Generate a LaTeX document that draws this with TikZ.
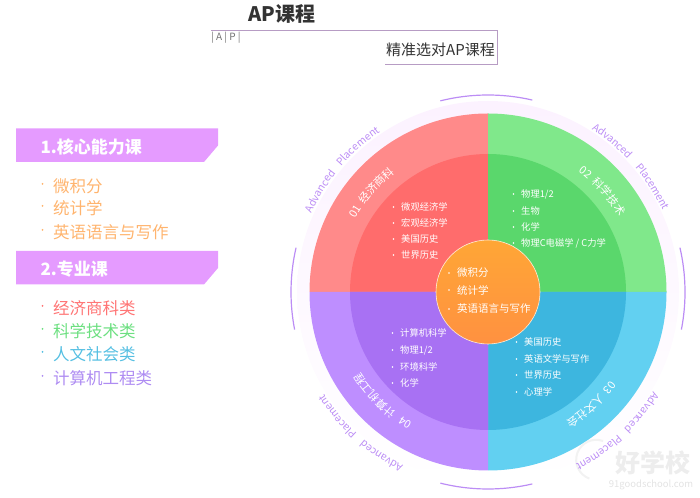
\documentclass[tikz,border=0pt]{standalone}
\usepackage{fontspec}
\setmainfont{Noto Sans CJK SC}
\usetikzlibrary{calc,decorations.text}
\definecolor{bannerpurple}{HTML}{E59BFF}
\definecolor{ringpurple}{HTML}{BC8DF5}
\definecolor{linepurple}{HTML}{B79CC4}
\definecolor{redout}{HTML}{FF8A8A}
\definecolor{redin}{HTML}{FF6C6C}
\definecolor{greenout}{HTML}{80E88B}
\definecolor{greenin}{HTML}{5AD76C}
\definecolor{blueout}{HTML}{62D0F1}
\definecolor{bluein}{HTML}{3DB6DF}
\definecolor{purpleout}{HTML}{BE8EFF}
\definecolor{purplein}{HTML}{A871F3}
\definecolor{coreorange}{HTML}{FFA636}
\definecolor{listorange}{HTML}{FFB46E}
\definecolor{listred}{HTML}{FF7474}
\definecolor{listgreen}{HTML}{6CDF80}
\definecolor{listblue}{HTML}{55BFE2}
\definecolor{listpurple}{HTML}{AE8CF2}
\tikzset{
  banner/.style={fill=bannerpurple},
  bannertext/.style={anchor=west,white,font=\fontsize{17}{17}\selectfont\bfseries},
  listtext/.style={anchor=west,inner sep=0pt,font=\fontsize{16.5}{17}\selectfont},
  wheeltext/.style={anchor=west,inner sep=0pt,white,font=\fontsize{9.3}{10}\selectfont},
  coretext/.style={anchor=west,inner sep=0pt,white,font=\fontsize{10.5}{11}\selectfont},
  ringarc/.style={ringpurple,line width=1.2pt}
}
% text bent clockwise round the wheel: radius, start, end, colour, size, text
\newcommand{\bentlabel}[6]{%
  \path[decorate,decoration={text along path,text align={fit to path stretching spaces},
    text={|\color{#4}\fontsize{#5}{#5}\selectfont|#6}}]
    (#2:#1) arc[start angle=#2,end angle=#3,radius=#1];}
\begin{document}
\begin{tikzpicture}[x=1pt,y=1pt]
  \useasboundingbox (0,0) rectangle (700,497);

  % Make the header
  \node[anchor=west,inner sep=0pt,black!80,font=\fontsize{20}{20}\selectfont\bfseries] (title) at (248,483) {AP课程};
  \draw[linepurple,line width=0.7pt] (211,467) -- (497,467) -- (497,433) -- (385,433);
  \node[anchor=west,inner sep=0pt,black!55,font=\fontsize{10}{10}\selectfont] (tag) at (211,459) {| A | P |};
  \node[anchor=west,inner sep=0pt,black!80,font=\fontsize{15}{15}\selectfont] (slogan) at (386,447) {精准选对AP课程};

  % Left column
  \foreach \y/\lbl in {351.5/1.核心能力课,229/2.专业课}{
    \fill[banner] (16,\y-16.5) -- (16,\y+17) -- (218,\y+17) -- (218,\y) -- (204,\y-16.5) -- cycle;
    \node[bannertext] at (37,\y-1) {\lbl};
  }
  \foreach \y/\lbl/\c in {311/微积分/listorange,289/统计学/listorange,265/英语语言与写作/listorange,
      189/经济商科类/listred,166/科学技术类/listgreen,143/人文社会类/listblue,119/计算机工程类/listpurple}{
    \fill[\c] (42.5,\y+2) circle (1);
    \node[listtext,text=\c] at (53,\y) {\lbl};
  }

  % Create the wheel
  \begin{scope}[shift={(488,205)}]
    \coordinate (O) at (0,0);
    \shade[top color=bannerpurple!13,middle color=white,bottom color=white] (O) circle (191);
    \foreach \a/\o/\i in {90/redout/redin,0/greenout/greenin,-90/blueout/bluein,180/purpleout/purplein}{
      \fill[\o] (O) -- (\a:178.5) arc[start angle=\a,delta angle=90,radius=178.5] -- cycle;
      \fill[\i] (O) -- (\a:138) arc[start angle=\a,delta angle=90,radius=138] -- cycle;
    }
    \shade[top color=coreorange,bottom color=coreorange!80!red!90!white,draw=white!80!coreorange,line width=0.6pt] (O) circle (52);

    % The four arcs outside
    \foreach \a/\b in {104/77,167/191,13/-11,283/256}{
      \draw[ringarc] (\a:197) arc[start angle=\a,end angle=\b,radius=197];
    }

    % Watermark sits under the bent text
    \draw[black!5,line width=2pt] (115,-149) arc[start angle=70,end angle=250,radius=20];
    \node[inner sep=0pt,black!7,font=\fontsize{25}{25}\selectfont\bfseries] (mark) at (165,-171) {好学校};
    \node[inner sep=0pt,black!11,font=\fontsize{9.5}{10}\selectfont] (site) at (163,-193) {91goodschool.com};

    % Bent labels
    \bentlabel{193}{156}{124}{ringpurple}{10.3}{Advanced Placement}
    \bentlabel{193}{57.5}{25}{ringpurple}{10.3}{Advanced Placement}
    \bentlabel{193}{-31}{-63}{ringpurple}{10.3}{Advanced Placement}
    \bentlabel{193}{244}{212}{ringpurple}{10.3}{Advanced Placement}
    \bentlabel{151}{151}{128}{white}{11}{01 经济商科}
    \bentlabel{151}{53}{30}{white}{11}{02 科学技术}
    \bentlabel{151}{-36}{-59}{white}{11}{03 人文社会}
    \bentlabel{151}{240}{212}{white}{11}{04 计算机工程}
  \end{scope}

  % Course names in the quarters
  \foreach \x/\y/\lbl in {401/290/微观经济学,401/274/宏观经济学,401/258/美国历史,401/242/世界历史,
      521/303/{物理1/2},521/286/生物,521/270/化学,521/254/{物理C电磁学 / C力学},
      524/155/美国历史,524/138/英语文学与写作,524/122/世界历史,524/105/心理学,
      400/164/计算机科学,400/147/{物理1/2},400/130/环境科学,400/114/化学}{
    \fill[white] (\x-7.5,\y) circle (0.9);
    \node[wheeltext] at (\x,\y) {\lbl};
  }
  \foreach \y/\lbl in {224/微积分,207/统计学,188/英语语言与写作}{
    \fill[white] (449,\y) circle (0.9);
    \node[coretext] at (457,\y) {\lbl};
  }
\end{tikzpicture}
\end{document}
